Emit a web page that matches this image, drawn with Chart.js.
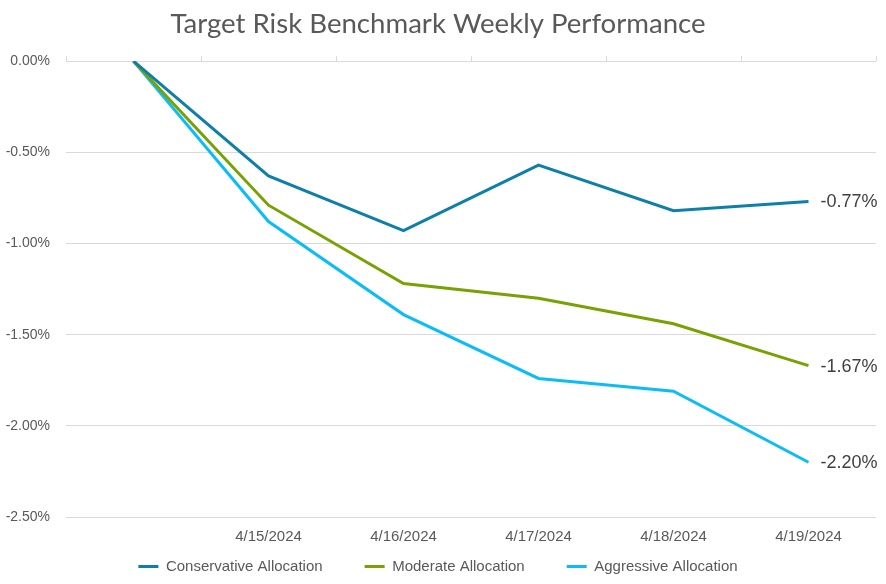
<!DOCTYPE html>
<html>
<head>
<meta charset="utf-8">
<script src="https://cdn.jsdelivr.net/npm/chart.js@4.4.1/dist/chart.umd.min.js"></script>
<style>
  html, body { margin: 0; padding: 0; background: #fff; }
  #wrap { width: 886px; height: 584px; }
</style>
</head>
<body>
<div id="wrap"><canvas id="chart"></canvas></div>
<script>
// categories (first point is the starting baseline, no label shown)
var dates = ["", "4/15/2024", "4/16/2024", "4/17/2024", "4/18/2024", "4/19/2024"];
var conservative = [0, -0.63, -0.93, -0.57, -0.82, -0.77];
var moderate = [0, -0.79, -1.22, -1.30, -1.44, -1.67];
var aggressive = [0, -0.88, -1.39, -1.74, -1.81, -2.20];
var yTicks = [0, -0.5, -1.0, -1.5, -2.0, -2.5];

var GRAY = "#595959";
var SANS = "'Liberation Sans', Arial, sans-serif";

function pct(v) {
    return v.toFixed(2) + "%";
}

// small upward tick marks on the 0% line, at category boundaries
var topTicks = {
    id: "topTicks",
    afterDraw: function(chart) {
        var x = chart.scales.x, y = chart.scales.y;
        var ctx = chart.ctx;
        var y0 = y.getPixelForValue(0);
        ctx.save();
        ctx.strokeStyle = "#d9d9d9";
        ctx.lineWidth = 1;
        for (var i = 0; i <= dates.length; i++) {
            var px = Math.round(x.getPixelForValue(i - 0.5)) + 0.5;
            ctx.beginPath();
            ctx.moveTo(px, y0);
            ctx.lineTo(px, y0 - 5);
            ctx.stroke();
        }
        ctx.restore();
    }
};

// value label next to the last point of every line
var endLabels = {
    id: "endLabels",
    afterDatasetsDraw: function(chart) {
        var ctx = chart.ctx;
        ctx.save();
        ctx.font = "18px " + SANS;
        ctx.fillStyle = "#404040";
        ctx.textBaseline = "middle";
        ctx.textAlign = "left";
        chart.data.datasets.forEach(function(ds, i) {
            var meta = chart.getDatasetMeta(i);
            var last = meta.data.length - 1;
            var pt = meta.data[last];
            ctx.fillText(pct(ds.data[last]), pt.x + 12, pt.y + 1);
        });
        ctx.restore();
    }
};

function line(label, data, color) {
    return {
        label: label,
        data: data,
        borderColor: color,
        backgroundColor: color,
        borderWidth: 3,
        pointRadius: 0,
        tension: 0,
        fill: false
    };
}

new Chart(document.getElementById("chart"), {
    type: "line",
    data: {
        labels: dates,
        datasets: [
            line("Conservative Allocation", conservative, "#0e7fa8"),
            line("Moderate Allocation", moderate, "#78a204"),
            line("Aggressive Allocation", aggressive, "#0cbdf5")
        ]
    },
    options: {
        responsive: true,
        maintainAspectRatio: false,
        animation: false,
        layout: { padding: { left: 0, right: 10, top: 0, bottom: 0 } },
        plugins: {
            title: {
                display: true,
                text: "Target Risk Benchmark Weekly Performance",
                color: GRAY,
                font: { family: "Lato, 'Noto Sans', sans-serif", size: 27.6, weight: "normal" },
                padding: { top: 8, bottom: 20 }
            },
            legend: {
                position: "bottom",
                labels: {
                    color: GRAY,
                    font: { family: SANS, size: 15 },
                    boxWidth: 20,
                    boxHeight: 3,
                    padding: 42,
                    generateLabels: function(chart) {
                        var items = Chart.defaults.plugins.legend.labels.generateLabels(chart);
                        items.forEach(function(it) { it.lineWidth = 0; });
                        return items;
                    }
                }
            },
            tooltip: { enabled: false }
        },
        scales: {
            x: {
                offset: true,
                grid: { display: false, drawTicks: false },
                border: { display: false },
                afterFit: function(s) { s.height = 0; },
                ticks: {
                    color: GRAY,
                    font: { family: SANS, size: 15 },
                    mirror: true,
                    padding: -29,
                    maxRotation: 0
                }
            },
            y: {
                min: -2.5,
                max: 0,
                afterBuildTicks: function(s) {
                    s.ticks = yTicks.map(function(v) { return { value: v }; });
                },
                afterFit: function(s) { s.width = 66; },
                grid: { color: "#d9d9d9", drawTicks: false },
                border: { display: false },
                ticks: {
                    color: GRAY,
                    font: { family: SANS, size: 14 },
                    padding: 16,
                    callback: function(v) { return pct(v); }
                }
            }
        }
    },
    plugins: [topTicks, endLabels]
});
</script>
</body>
</html>
